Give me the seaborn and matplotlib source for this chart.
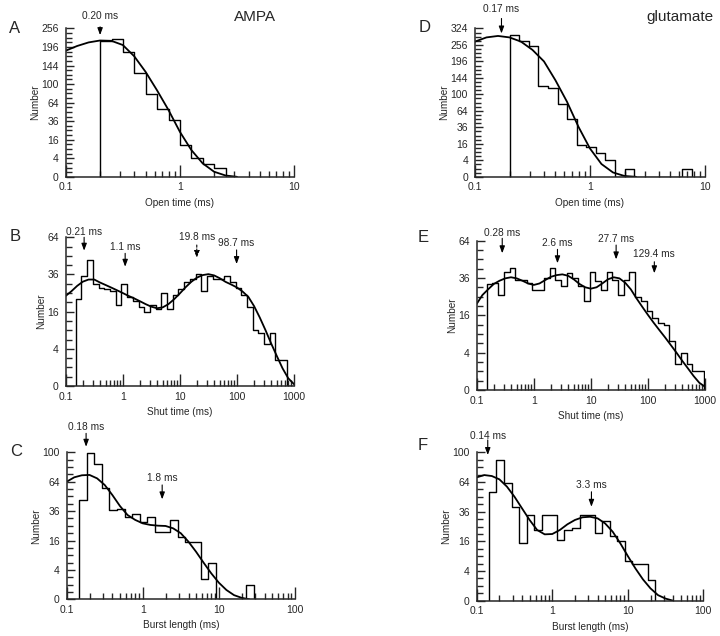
import matplotlib
matplotlib.use("Agg")
import matplotlib.pyplot as plt
import numpy as np
import seaborn as sns
from matplotlib.ticker import FixedFormatter, FixedLocator, LogLocator, NullFormatter

# ---- data (counts per log bin, fitted curves) ----
# A: AMPA open time
A_EDGE0, A_PER_DEC = 0.2, 10
A_COUNTS = [215, 221, 182, 125, 80, 54, 38, 12, 4, 2, 1]
A_FIT_T = np.logspace(-1, 0.5, 16)
A_FIT_N = [185, 199, 210, 216, 215, 202, 169, 128, 87, 52, 23.6, 8.4, 2.1, 0.3, 0.02, 0]
A_TAUS = [0.2]
A_TAU_TEXT = ["0.20 ms"]

# B: AMPA shut time
B_EDGE0, B_PER_DEC = 0.15, 10
B_COUNTS = [22, 35, 46, 30, 28, 27, 26, 19, 30, 23, 21, 18, 16, 19, 17, 25, 17, 24, 27,
            31, 33, 36, 26, 35, 33, 33, 35, 31, 28, 24, 18, 9, 8, 5, 8, 2, 2, 0]
B_FIT_T = np.logspace(-1, 3, 41)
B_FIT_N = [23.5, 26, 29, 31.5, 32.8, 32.8, 31, 29.5, 28, 26.5,
           25, 23.5, 22.2, 20.8, 19.4, 18.2, 17.5, 17.9, 19.4, 21.8,
           24.8, 28.2, 31.4, 34, 35.6, 36.2, 35.4, 33.6, 31.4, 29.8,
           28.1, 25.8, 23, 18.5, 13.6, 9.06, 5.24, 2.59, 0.9, 0.17, 0.01]
B_TAUS = [0.21, 1.1, 19.8, 98.7]
B_TAU_TEXT = ["0.21 ms", "1.1 ms", "19.8 ms", "98.7 ms"]

# C: AMPA burst length
C_EDGE0, C_PER_DEC = 0.145, 10
C_COUNTS = [46, 99, 85, 57, 37, 38, 31, 34, 28, 31, 21, 21, 29, 18, 15, 15, 2, 6, 0, 0, 0, 0, 1]
C_FIT_T = np.logspace(-1, 1.4, 25)
C_FIT_N = [64, 68.9, 71.2, 71.6, 67.7, 60.5, 50.4, 40.3, 32.9, 29.2, 26.7, 25.6, 25.1,
           24.9, 23.3, 20.2, 15.4, 10.5, 6.2, 3.13, 1.28, 0.4, 0.08, 0.01, 0]
C_TAUS = [0.18, 1.8]
C_TAU_TEXT = ["0.18 ms", "1.8 ms"]

# D: glutamate open time
D_EDGE0, D_PER_DEC = 0.2, 12
D_COUNTS = [298, 272, 250, 122, 117, 79, 50, 15, 13, 8, 4, 0, 1, 0, 0, 0, 0, 0, 1]
D_FIT_T = np.logspace(-1, 0.4, 15)
D_FIT_N = [269, 286, 292, 286, 269, 237, 196, 137, 83, 36.8, 11.8, 2.4, 0.28, 0.01, 0]
D_TAUS = [0.17]
D_TAU_TEXT = ["0.17 ms"]

# E: glutamate shut time
E_EDGE0, E_PER_DEC = 0.15, 10
E_COUNTS = [32, 33, 26, 40, 43, 35, 35, 33, 29, 29, 36, 43, 35, 31, 39, 36, 31, 23, 40,
            34, 29, 40, 35, 26, 35, 40, 25, 23, 18, 15, 13, 12, 7, 2, 4, 2, 1, 1]
E_FIT_T = np.logspace(-1, 3, 41)
E_FIT_N = [21.3, 25.9, 29.1, 32.3, 34.3, 35.8, 36.5, 35.8, 34.3, 32.6,
           31.7, 32.6, 34.7, 36.8, 37.9, 38.4, 37.5, 35.2, 32.3, 30.3,
           29.5, 30.3, 32.6, 35.2, 36.5, 35.8, 33.1, 29.1, 24.1, 19.9,
           16.2, 13.0, 10.3, 7.95, 5.81, 4.0, 2.46, 1.35, 0.56, 0.15, 0.03]
E_TAUS = [0.28, 2.6, 27.7, 129.4]
E_TAU_TEXT = ["0.28 ms", "2.6 ms", "27.7 ms", "129.4 ms"]

# F: glutamate burst length
F_EDGE0, F_PER_DEC = 0.145, 10
F_COUNTS = [54, 90, 63, 40, 15, 33, 23, 33, 33, 17, 23, 24, 33, 33, 21, 29, 19, 16, 7, 6, 6, 2]
F_FIT_T = np.logspace(-1, 1.6, 27)
F_FIT_N = [69.1, 71.7, 70.6, 66.9, 59.1, 49.1, 38.7, 29.6, 22.7, 20.0, 20.2, 22.7, 26.5,
           29.6, 31.6, 32.0, 30.8, 27.1, 21.6, 15.0, 9.06, 4.75, 2.07, 0.69, 0.14, 0.02, 0]
F_TAUS = [0.14, 3.3]
F_TAU_TEXT = ["0.14 ms", "3.3 ms"]

# ---- layout (figure fractions / axes fractions) ----
PANELS = {
    "A": dict(rect=[0.0913, 0.722, 0.317, 0.2333], xmax=10, ymax=256, xlabel="Open time (ms)",
              letter=(0.013, 0.955),
              arrows=[(1.085, 1.011, 0.955, False)]),
    "B": dict(rect=[0.0913, 0.3931, 0.317, 0.2338], xmax=1000, ymax=64, xlabel="Shut time (ms)",
              letter=(0.014, 0.628),
              arrows=[(1.038, 1.0, 0.91, False), (0.937, 0.892, 0.802, False),
                      (1.004, 0.948, 0.861, True), (0.96, 0.915, 0.82, False)]),
    "C": dict(rect=[0.0926, 0.0577, 0.317, 0.2311], xmax=100, ymax=100, xlabel="Burst length (ms)",
              letter=(0.014, 0.29),
              arrows=[(1.174, 1.129, 1.038, False), (0.823, 0.778, 0.68, False)]),
    "D": dict(rect=[0.6597, 0.722, 0.3194, 0.2333], xmax=10, ymax=324, xlabel="Open time (ms)",
              letter=(0.581, 0.956),
              arrows=[(1.128, 1.067, 0.966, False)]),
    "E": dict(rect=[0.6621, 0.3868, 0.3171, 0.2347], xmax=1000, ymax=64, xlabel="Shut time (ms)",
              letter=(0.58, 0.626),
              arrows=[(1.054, 1.016, 0.916, False), (0.983, 0.942, 0.849, False),
                      (1.009, 0.971, 0.875, False), (0.911, 0.859, 0.782, False)]),
    "F": dict(rect=[0.6621, 0.0555, 0.3148, 0.2333], xmax=100, ymax=100, xlabel="Burst length (ms)",
              letter=(0.58, 0.299),
              arrows=[(1.11, 1.083, 0.982, False), (0.78, 0.734, 0.633, False)]),
}

DATA = {
    "A": (A_EDGE0, A_PER_DEC, A_COUNTS, A_FIT_T, A_FIT_N, A_TAUS, A_TAU_TEXT),
    "B": (B_EDGE0, B_PER_DEC, B_COUNTS, B_FIT_T, B_FIT_N, B_TAUS, B_TAU_TEXT),
    "C": (C_EDGE0, C_PER_DEC, C_COUNTS, C_FIT_T, C_FIT_N, C_TAUS, C_TAU_TEXT),
    "D": (D_EDGE0, D_PER_DEC, D_COUNTS, D_FIT_T, D_FIT_N, D_TAUS, D_TAU_TEXT),
    "E": (E_EDGE0, E_PER_DEC, E_COUNTS, E_FIT_T, E_FIT_N, E_TAUS, E_TAU_TEXT),
    "F": (F_EDGE0, F_PER_DEC, F_COUNTS, F_FIT_T, F_FIT_N, F_TAUS, F_TAU_TEXT),
}


def sqrt_fwd(v):
    return np.sqrt(np.clip(v, 0, None))


def sqrt_inv(v):
    return np.square(v)


def draw_panel(ax, key):
    edge0, per_dec, counts, fit_t, fit_n, taus, tau_text = DATA[key]
    cfg = PANELS[key]

    edges = edge0 * 10 ** (np.arange(len(counts) + 1) / per_dec)
    hx = np.r_[edges[0], edges]
    hy = np.r_[0, counts, 0]
    sns.lineplot(x=hx, y=hy, estimator=None, sort=False, drawstyle="steps-post",
                 color="black", lw=1.0, ax=ax)
    sns.lineplot(x=fit_t, y=fit_n, estimator=None, sort=False, color="black", lw=1.3, ax=ax)

    ax.set_xscale("log")
    ax.set_yscale("function", functions=(sqrt_fwd, sqrt_inv))
    ax.set_xlim(0.1, cfg["xmax"])
    ax.set_ylim(0, cfg["ymax"])

    # x ticks: decades, long inward ticks
    ndec = int(round(np.log10(cfg["xmax"]))) + 2
    majors = 10.0 ** np.arange(-1, ndec - 1)
    ax.xaxis.set_major_locator(FixedLocator(majors))
    ax.xaxis.set_major_formatter(FixedFormatter([f"{m:g}" for m in majors]))
    ax.xaxis.set_minor_locator(LogLocator(base=10, subs=np.arange(2, 10)))
    ax.xaxis.set_minor_formatter(NullFormatter())

    # y ticks: square-root spacing
    smax = np.sqrt(cfg["ymax"])
    ymaj = np.arange(0, smax + 1e-9, 2) ** 2
    ymin = np.arange(0, smax + 1e-9, 0.5) ** 2
    ax.yaxis.set_major_locator(FixedLocator(ymaj))
    ax.yaxis.set_major_formatter(FixedFormatter([f"{int(v)}" for v in ymaj]))
    ax.yaxis.set_minor_locator(FixedLocator(ymin))
    ax.yaxis.set_minor_formatter(NullFormatter())

    ax.tick_params(axis="x", which="major", direction="in", length=9, width=1, pad=4, labelsize=7.5)
    ax.tick_params(axis="x", which="minor", direction="in", length=4.5, width=1)
    ax.tick_params(axis="y", which="major", direction="in", length=5.5, width=1, pad=5, labelsize=7.5)
    ax.tick_params(axis="y", which="minor", direction="in", length=4.5, width=1)

    ax.spines[["top", "right"]].set_visible(False)
    for s in ("left", "bottom"):
        ax.spines[s].set_linewidth(1.1)

    ax.set_xlabel(cfg["xlabel"], fontsize=7.2, labelpad=4)
    ax.set_ylabel("Number", fontsize=7.2, labelpad=1)

    trans = ax.get_xaxis_transform()
    for tau, txt, (ty, tail, tip, dashed) in zip(taus, tau_text, cfg["arrows"]):
        ax.text(tau, ty, txt, transform=trans, ha="center", va="center", fontsize=7.3, clip_on=False)
        ax.annotate("", xy=(tau, tip), xycoords=trans, xytext=(tau, tail), textcoords=trans,
                    annotation_clip=False,
                    arrowprops=dict(arrowstyle="-|>,head_length=0.35,head_width=0.13",
                                    color="black", lw=0.8, shrinkA=0, shrinkB=0,
                                    linestyle=(0, (2, 1.5)) if dashed else "-"))

    lx, ly = cfg["letter"]
    ax.figure.text(lx, ly, key, fontsize=12, ha="left", va="center")


def main():
    sns.set_theme(style="ticks")
    plt.rcParams["font.family"] = ["Liberation Sans", "DejaVu Sans"]
    plt.rcParams["axes.linewidth"] = 1.1

    fig = plt.figure(figsize=(7.2, 6.36), dpi=100)
    fig.patch.set_facecolor("white")

    for key in "ABCDEF":
        ax = fig.add_axes(PANELS[key]["rect"])
        ax.set_facecolor("white")
        draw_panel(ax, key)

    fig.text(0.354, 0.974, "AMPA", fontsize=11, ha="center", va="center")
    fig.text(0.944, 0.974, "glutamate", fontsize=11, ha="center", va="center")

    fig.savefig("out.png", dpi=100, facecolor="white")
    plt.close(fig)


if __name__ == "__main__":
    main()
